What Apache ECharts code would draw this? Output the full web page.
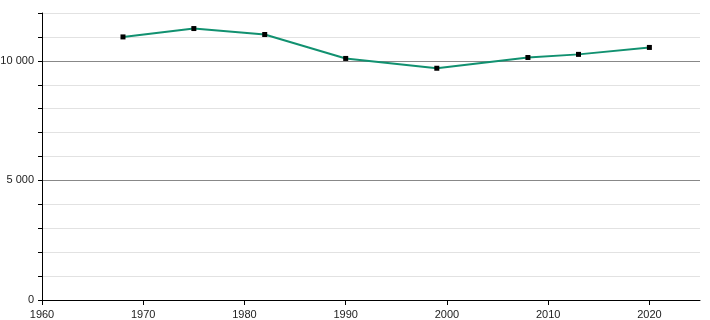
<!DOCTYPE html>
<html><head><meta charset="utf-8">
<script src="https://cdn.jsdelivr.net/npm/echarts@6/dist/echarts.min.js"></script>
<style>html,body{margin:0;padding:0;background:#fff}#c{width:710px;height:320px}</style>
</head><body><div id="c"></div>
<script>
const years = [1968, 1975, 1982, 1990, 1999, 2008, 2013, 2020];
const population = [11000, 11350, 11100, 10100, 9690, 10140, 10270, 10560];
const xTicks = [1960, 1970, 1980, 1990, 2000, 2010, 2020];
const yLabels = [0, 5000, 10000];

const chart = echarts.init(document.getElementById('c'), null, {renderer: 'canvas'});
chart.setOption({
  animation: false,
  grid: {left: 42, right: 10, top: 13, bottom: 20, containLabel: false, outerBoundsMode: 'none'},
  xAxis: {
    type: 'value', min: 1960, max: 2025, interval: 10,
    axisLine: {show: true, onZero: false, lineStyle: {color: '#000', width: 1}},
    axisTick: {show: true, length: 5, lineStyle: {color: '#000'}},
    axisLabel: {color: '#222', fontSize: 11, fontFamily: 'Liberation Sans, Arial, sans-serif', margin: 9,
      formatter: v => xTicks.includes(v) ? String(v) : '', showMaxLabel: false},
    splitLine: {show: false}
  },
  yAxis: {
    type: 'value', min: 0, max: 12000, interval: 1000,
    axisLine: {show: true, lineStyle: {color: '#000', width: 1}},
    axisTick: {show: true, length: 4, lineStyle: {color: '#000'}},
    axisLabel: {color: '#222', fontSize: 11, fontFamily: 'Liberation Sans, Arial, sans-serif', margin: 8,
      formatter: v => yLabels.includes(v) ? String(v).replace(/\B(?=(\d{3})+(?!\d))/g, ' ') : ''},
    splitLine: {show: true, lineStyle: {color: ['#888', '#e2e2e2', '#e2e2e2', '#e2e2e2', '#e2e2e2'], width: 1}}
  },
  series: [{
    type: 'line',
    data: years.map((y, i) => [y, population[i]]),
    lineStyle: {color: '#119170', width: 2},
    symbol: 'rect', symbolSize: 5,
    itemStyle: {color: '#000', borderWidth: 0},
    z: 3
  }]
});
</script></body></html>
